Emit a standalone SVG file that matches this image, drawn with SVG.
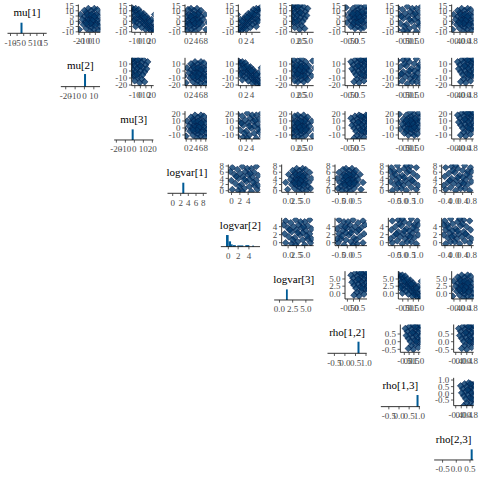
<svg xmlns="http://www.w3.org/2000/svg" xmlns:xlink="http://www.w3.org/1999/xlink" width="480" height="480" viewBox="0 0 480 480">
<style>
.ax{fill:none;stroke:#000;stroke-width:0.8}
.tk{fill:none;stroke:#333;stroke-width:0.8}
.t{font-family:"Liberation Serif","DejaVu Serif",serif;font-size:9px;fill:#4d4d4d}
.ty{text-anchor:end}
.tx{text-anchor:middle}
.tt{font-family:"Liberation Serif","DejaVu Serif",serif;font-size:11px;fill:#000;text-anchor:middle}
.pt{fill:#03396c;fill-opacity:0.8;stroke:#011f4b;stroke-width:0.6}
.bar{fill:#005b96}
</style>
<defs>
<path id="p" class="pt" d="M0,-3.3L3.3,0L0,3.3L-3.3,0Z"/>
<g id="cA">
<use href="#p" x="14" y="4"/><use href="#p" x="17" y="6"/><use href="#p" x="12" y="8"/><use href="#p" x="19" y="9"/><use href="#p" x="15" y="11"/><use href="#p" x="22" y="10"/><use href="#p" x="10" y="12"/><use href="#p" x="18" y="13"/><use href="#p" x="13" y="14"/><use href="#p" x="16" y="15"/><use href="#p" x="21" y="14"/><use href="#p" x="24" y="12"/><use href="#p" x="11" y="17"/><use href="#p" x="15" y="18"/><use href="#p" x="19" y="17"/><use href="#p" x="23" y="16"/><use href="#p" x="9" y="20"/><use href="#p" x="14" y="21"/><use href="#p" x="18" y="20"/><use href="#p" x="22" y="19"/><use href="#p" x="26" y="18"/><use href="#p" x="12" y="24"/><use href="#p" x="17" y="23"/><use href="#p" x="20" y="25"/><use href="#p" x="25" y="22"/><use href="#p" x="8" y="15"/><use href="#p" x="6" y="10"/><use href="#p" x="27" y="8"/><use href="#p" x="20" y="4"/><use href="#p" x="16" y="27"/><use href="#p" x="3" y="18"/><use href="#p" x="28" y="24"/><use href="#p" x="13" y="10"/><use href="#p" x="17" y="10"/><use href="#p" x="20" y="12"/><use href="#p" x="14" y="16"/><use href="#p" x="18" y="16"/><use href="#p" x="16" y="19"/><use href="#p" x="12" y="19"/><use href="#p" x="21" y="21"/><use href="#p" x="24" y="26"/><use href="#p" x="10" y="6"/><use href="#p" x="23" y="5"/><use href="#p" x="5" y="25"/><use href="#p" x="29" y="14"/>
</g>
<g id="cB">
<use href="#p" x="4" y="3"/><use href="#p" x="6" y="5"/><use href="#p" x="8" y="4"/><use href="#p" x="5" y="8"/><use href="#p" x="9" y="7"/><use href="#p" x="11" y="9"/><use href="#p" x="7" y="11"/><use href="#p" x="12" y="12"/><use href="#p" x="10" y="14"/><use href="#p" x="14" y="13"/><use href="#p" x="13" y="16"/><use href="#p" x="16" y="15"/><use href="#p" x="15" y="18"/><use href="#p" x="18" y="17"/><use href="#p" x="17" y="20"/><use href="#p" x="20" y="19"/><use href="#p" x="19" y="22"/><use href="#p" x="22" y="21"/><use href="#p" x="21" y="24"/><use href="#p" x="24" y="23"/><use href="#p" x="23" y="26"/><use href="#p" x="26" y="25"/><use href="#p" x="3" y="13"/><use href="#p" x="27" y="10"/><use href="#p" x="9" y="18"/><use href="#p" x="16" y="9"/><use href="#p" x="12" y="20"/><use href="#p" x="20" y="14"/><use href="#p" x="25" y="18"/><use href="#p" x="7" y="15"/><use href="#p" x="18" y="25"/><use href="#p" x="28" y="21"/><use href="#p" x="11" y="5"/><use href="#p" x="14" y="23"/><use href="#p" x="2" y="6"/><use href="#p" x="24" y="15"/><use href="#p" x="8" y="22"/><use href="#p" x="15" y="11"/><use href="#p" x="19" y="12"/><use href="#p" x="10" y="10"/><use href="#p" x="13" y="8"/><use href="#p" x="6" y="17"/><use href="#p" x="22" y="17"/><use href="#p" x="17" y="13"/><use href="#p" x="26" y="28"/>
</g>
<g id="cD">
<use href="#p" x="3" y="3"/><use href="#p" x="8" y="5"/><use href="#p" x="13" y="2"/><use href="#p" x="16" y="7"/><use href="#p" x="22" y="4"/><use href="#p" x="27" y="2"/><use href="#p" x="5" y="10"/><use href="#p" x="11" y="9"/><use href="#p" x="19" y="10"/><use href="#p" x="25" y="8"/><use href="#p" x="29" y="11"/><use href="#p" x="2" y="16"/><use href="#p" x="9" y="14"/><use href="#p" x="14" y="12"/><use href="#p" x="17" y="17"/><use href="#p" x="23" y="13"/><use href="#p" x="27" y="16"/><use href="#p" x="6" y="19"/><use href="#p" x="12" y="20"/><use href="#p" x="20" y="22"/><use href="#p" x="25" y="21"/><use href="#p" x="3" y="25"/><use href="#p" x="9" y="26"/><use href="#p" x="15" y="24"/><use href="#p" x="22" y="27"/><use href="#p" x="28" y="25"/><use href="#p" x="18" y="4"/><use href="#p" x="7" y="12"/><use href="#p" x="24" y="18"/><use href="#p" x="13" y="27"/><use href="#p" x="1" y="7"/><use href="#p" x="20" y="15"/><use href="#p" x="10" y="22"/><use href="#p" x="29" y="21"/><use href="#p" x="15" y="15"/><use href="#p" x="21" y="9"/>
</g>
<g id="cE">
<use href="#p" x="14" y="2"/><use href="#p" x="18" y="1"/><use href="#p" x="22" y="3"/><use href="#p" x="26" y="2"/><use href="#p" x="16" y="5"/><use href="#p" x="20" y="6"/><use href="#p" x="24" y="5"/><use href="#p" x="28" y="6"/><use href="#p" x="12" y="7"/><use href="#p" x="19" y="9"/><use href="#p" x="23" y="8"/><use href="#p" x="27" y="9"/><use href="#p" x="15" y="10"/><use href="#p" x="21" y="11"/><use href="#p" x="25" y="12"/><use href="#p" x="17" y="13"/><use href="#p" x="22" y="14"/><use href="#p" x="26" y="15"/><use href="#p" x="13" y="14"/><use href="#p" x="19" y="16"/><use href="#p" x="24" y="18"/><use href="#p" x="20" y="20"/><use href="#p" x="16" y="21"/><use href="#p" x="23" y="23"/><use href="#p" x="18" y="25"/><use href="#p" x="10" y="4"/><use href="#p" x="29" y="12"/><use href="#p" x="21" y="17"/><use href="#p" x="15" y="17"/><use href="#p" x="27" y="19"/><use href="#p" x="11" y="11"/><use href="#p" x="25" y="1"/><use href="#p" x="20" y="2"/><use href="#p" x="17" y="8"/><use href="#p" x="13" y="24"/>
</g>
</defs>
<rect width="480" height="480" fill="#fff"/>

<!-- diagonal panels -->
<g id="diag-mu1" transform="translate(0,0)">
<text class="tt" x="27" y="16">mu[1]</text>
<rect class="bar" x="20.5" y="22.7" width="2" height="10.6"/>
<path class="ax" d="M7.5,33.3H46.7"/>
<path class="tk" d="M10.5,33.3V36M17.1,33.3V36M23.7,33.3V36M30.3,33.3V36M36.9,33.3V36M43.5,33.3V36"/>
<text class="t tx" x="10.5" y="45.5">-10</text><text class="t tx" x="17.1" y="45.5">-5</text><text class="t tx" x="23.7" y="45.5">0</text><text class="t tx" x="30.3" y="45.5">5</text><text class="t tx" x="36.9" y="45.5">10</text><text class="t tx" x="43.5" y="45.5">15</text>
</g>
<g id="diag-mu2" transform="translate(53.33,53.33)">
<text class="tt" x="27" y="16">mu[2]</text>
<rect class="bar" x="30.7" y="20.7" width="2" height="12.6"/>
<path class="ax" d="M7.5,33.3H46.7"/>
<path class="tk" d="M12.4,33.3V36M21.8,33.3V36M31.1,33.3V36M40.5,33.3V36"/>
<text class="t tx" x="12.4" y="45.5">-20</text><text class="t tx" x="21.8" y="45.5">-10</text><text class="t tx" x="31.1" y="45.5">0</text><text class="t tx" x="40.5" y="45.5">10</text>
</g>
<g id="diag-mu3" transform="translate(106.67,106.67)">
<text class="tt" x="27" y="16">mu[3]</text>
<rect class="bar" x="25" y="22.7" width="2" height="10.6"/>
<path class="ax" d="M7.5,33.3H46.7"/>
<path class="tk" d="M9.7,33.3V36M18.7,33.3V36M27.7,33.3V36M36.7,33.3V36M45.7,33.3V36"/>
<text class="t tx" x="9.7" y="45.5">-20</text><text class="t tx" x="18.7" y="45.5">-10</text><text class="t tx" x="27.7" y="45.5">0</text><text class="t tx" x="36.7" y="45.5">10</text><text class="t tx" x="45.7" y="45.5">20</text>
</g>
<g id="diag-logvar1" transform="translate(160,160)">
<text class="tt" x="27" y="16">logvar[1]</text>
<rect class="bar" x="22.3" y="22.7" width="2" height="10.6"/>
<path class="ax" d="M7.5,33.3H46.7"/>
<path class="tk" d="M12.7,33.3V36M20.7,33.3V36M28.3,33.3V36M36,33.3V36M43.3,33.3V36"/>
<text class="t tx" x="12.7" y="45.5">0</text><text class="t tx" x="20.7" y="45.5">2</text><text class="t tx" x="28.3" y="45.5">4</text><text class="t tx" x="36" y="45.5">6</text><text class="t tx" x="43.3" y="45.5">8</text>
</g>
<g id="diag-logvar2" transform="translate(213.33,213.33)">
<text class="tt" x="27" y="16">logvar[2]</text>
<rect class="bar" x="12.7" y="21.7" width="2.6" height="11.6"/>
<rect class="bar" x="15.3" y="28" width="2.4" height="5.3"/>
<rect class="bar" x="17.7" y="31" width="1.6" height="2.3"/>
<rect class="bar" x="19.5" y="31.8" width="3" height="1.5"/>
<rect class="bar" x="24" y="32.1" width="6" height="1.2"/>
<rect class="bar" x="32" y="31.8" width="4" height="1.5"/>
<rect class="bar" x="39" y="32.2" width="1.5" height="1.1"/>
<path class="ax" d="M7.5,33.3H46.7"/>
<path class="tk" d="M15,33.3V36M24.8,33.3V36M35.6,33.3V36"/>
<text class="t tx" x="15" y="45.5">0</text><text class="t tx" x="24.8" y="45.5">2</text><text class="t tx" x="35.6" y="45.5">4</text>
</g>
<g id="diag-logvar3" transform="translate(266.67,266.67)">
<text class="tt" x="27" y="16">logvar[3]</text>
<rect class="bar" x="19.3" y="22.7" width="1.8" height="10.6"/>
<path class="ax" d="M7.5,33.3H46.7"/>
<path class="tk" d="M12.8,33.3V36M26,33.3V36M39.2,33.3V36"/>
<text class="t tx" x="12.8" y="45.5">0.0</text><text class="t tx" x="26" y="45.5">2.5</text><text class="t tx" x="39.2" y="45.5">5.0</text>
</g>
<g id="diag-rho12" transform="translate(320,320)">
<text class="tt" x="27" y="16">rho[1,2]</text>
<rect class="bar" x="37.5" y="21.7" width="2" height="11.6"/>
<path class="ax" d="M7.5,33.3H46.7"/>
<path class="tk" d="M14.4,33.3V36M24.9,33.3V36M35.5,33.3V36M46,33.3V36"/>
<text class="t tx" x="14.4" y="45.5">-0.5</text><text class="t tx" x="24.9" y="45.5">0.0</text><text class="t tx" x="35.5" y="45.5">0.5</text><text class="t tx" x="46" y="45.5">1.0</text>
</g>
<g id="diag-rho13" transform="translate(373.33,373.33)">
<text class="tt" x="27" y="16">rho[1,3]</text>
<rect class="bar" x="43.2" y="21.7" width="2" height="11.6"/>
<path class="ax" d="M7.5,33.3H46.7"/>
<path class="tk" d="M15.5,33.3V36M25.7,33.3V36M35.8,33.3V36M46,33.3V36"/>
<text class="t tx" x="15.5" y="45.5">-0.5</text><text class="t tx" x="25.7" y="45.5">0.0</text><text class="t tx" x="35.8" y="45.5">0.5</text><text class="t tx" x="46" y="45.5">1.0</text>
</g>
<g id="diag-rho23" transform="translate(426.67,426.67)">
<text class="tt" x="27" y="16">rho[2,3]</text>
<rect class="bar" x="44" y="22.7" width="2" height="10.6"/>
<path class="ax" d="M7.5,33.3H46.7"/>
<path class="tk" d="M15.9,33.3V36M29.6,33.3V36M43.3,33.3V36"/>
<text class="t tx" x="15.9" y="45.5">-0.5</text><text class="t tx" x="29.6" y="45.5">0.0</text><text class="t tx" x="43.3" y="45.5">0.5</text>
</g>

<!-- row 0: mu[1] -->
<g id="sc-r0-c1" transform="translate(53.33,0)">
<svg x="25" y="4.5" width="22" height="27.8"><use href="#cA" transform="translate(-4,0)"/></svg>
<path class="ax" d="M25,4.5V32.3H47"/>
<path class="tk" d="M22.3,5.55H25M22.3,10.8H25M22.3,16H25M22.3,21.3H25M22.3,26.5H25M22.3,31.8H25"/>
<text class="t ty" x="20.6" y="8.75">15</text><text class="t ty" x="20.6" y="14">10</text><text class="t ty" x="20.6" y="19.2">5</text><text class="t ty" x="20.6" y="24.5">0</text><text class="t ty" x="20.6" y="29.7">-5</text><text class="t ty" x="20.6" y="35">-10</text>
<path class="tk" d="M25.55,32.3V35M31.05,32.3V35M36.55,32.3V35M42.05,32.3V35"/>
<text class="t tx" x="25.55" y="44.3">-20</text><text class="t tx" x="31.05" y="44.3">-10</text><text class="t tx" x="36.55" y="44.3">0</text><text class="t tx" x="42.05" y="44.3">10</text>
</g>
<g id="sc-r0-c2" transform="translate(106.67,0)">
<svg x="25" y="4.5" width="22" height="27.8"><use href="#cB" transform="translate(-4,0)"/></svg>
<path class="ax" d="M25,4.5V32.3H47"/>
<path class="tk" d="M22.3,5.55H25M22.3,10.8H25M22.3,16H25M22.3,21.3H25M22.3,26.5H25M22.3,31.8H25"/>
<text class="t ty" x="20.6" y="8.75">15</text><text class="t ty" x="20.6" y="14">10</text><text class="t ty" x="20.6" y="19.2">5</text><text class="t ty" x="20.6" y="24.5">0</text><text class="t ty" x="20.6" y="29.7">-5</text><text class="t ty" x="20.6" y="35">-10</text>
<path class="tk" d="M28.17,32.3V35M33.69,32.3V35M39.23,32.3V35M44.78,32.3V35"/>
<text class="t tx" x="28.17" y="44.3">-10</text><text class="t tx" x="33.69" y="44.3">0</text><text class="t tx" x="39.23" y="44.3">10</text><text class="t tx" x="44.78" y="44.3">20</text>
</g>
<g id="sc-r0-c3" transform="translate(160,0)">
<svg x="25" y="4.5" width="22" height="27.8"><use href="#cA" transform="translate(26,0) scale(-1,1)"/></svg>
<path class="ax" d="M25,4.5V32.3H47"/>
<path class="tk" d="M22.3,5.55H25M22.3,10.8H25M22.3,16H25M22.3,21.3H25M22.3,26.5H25M22.3,31.8H25"/>
<text class="t ty" x="20.6" y="8.75">15</text><text class="t ty" x="20.6" y="14">10</text><text class="t ty" x="20.6" y="19.2">5</text><text class="t ty" x="20.6" y="24.5">0</text><text class="t ty" x="20.6" y="29.7">-5</text><text class="t ty" x="20.6" y="35">-10</text>
<path class="tk" d="M26.23,32.3V35M31.12,32.3V35M36,32.3V35M40.88,32.3V35M45.77,32.3V35"/>
<text class="t tx" x="26.23" y="44.3">0</text><text class="t tx" x="31.12" y="44.3">2</text><text class="t tx" x="36" y="44.3">4</text><text class="t tx" x="40.88" y="44.3">6</text><text class="t tx" x="45.77" y="44.3">8</text>
</g>
<g id="sc-r0-c4" transform="translate(213.33,0)">
<svg x="25" y="4.5" width="22" height="27.8"><use href="#cB" transform="translate(26,0) scale(-1,1)"/></svg>
<path class="ax" d="M25,4.5V32.3H47"/>
<path class="tk" d="M22.3,5.55H25M22.3,10.8H25M22.3,16H25M22.3,21.3H25M22.3,26.5H25M22.3,31.8H25"/>
<text class="t ty" x="20.6" y="8.75">15</text><text class="t ty" x="20.6" y="14">10</text><text class="t ty" x="20.6" y="19.2">5</text><text class="t ty" x="20.6" y="24.5">0</text><text class="t ty" x="20.6" y="29.7">-5</text><text class="t ty" x="20.6" y="35">-10</text>
<path class="tk" d="M27.2,32.3V35M32.92,32.3V35M38.64,32.3V35"/>
<text class="t tx" x="27.2" y="44.3">0</text><text class="t tx" x="32.92" y="44.3">2</text><text class="t tx" x="38.64" y="44.3">4</text>
</g>
<g id="sc-r0-c5" transform="translate(266.67,0)">
<svg x="25" y="4.5" width="22" height="27.8"><use href="#cE" transform="translate(26,0) scale(-1,1)"/></svg>
<path class="ax" d="M25,4.5V32.3H47"/>
<path class="tk" d="M22.3,5.55H25M22.3,10.8H25M22.3,16H25M22.3,21.3H25M22.3,26.5H25M22.3,31.8H25"/>
<text class="t ty" x="20.6" y="8.75">15</text><text class="t ty" x="20.6" y="14">10</text><text class="t ty" x="20.6" y="19.2">5</text><text class="t ty" x="20.6" y="24.5">0</text><text class="t ty" x="20.6" y="29.7">-5</text><text class="t ty" x="20.6" y="35">-10</text>
<path class="tk" d="M29.44,32.3V35M35.14,32.3V35M40.84,32.3V35"/>
<text class="t tx" x="29.44" y="44.3">0.0</text><text class="t tx" x="35.14" y="44.3">2.5</text><text class="t tx" x="40.84" y="44.3">5.0</text>
</g>
<g id="sc-r0-c6" transform="translate(320,0)">
<svg x="25" y="4.5" width="22" height="27.8"><use href="#cA" transform="translate(-4,28) scale(1,-1)"/></svg>
<path class="ax" d="M25,4.5V32.3H47"/>
<path class="tk" d="M22.3,5.55H25M22.3,10.8H25M22.3,16H25M22.3,21.3H25M22.3,26.5H25M22.3,31.8H25"/>
<text class="t ty" x="20.6" y="8.75">15</text><text class="t ty" x="20.6" y="14">10</text><text class="t ty" x="20.6" y="19.2">5</text><text class="t ty" x="20.6" y="24.5">0</text><text class="t ty" x="20.6" y="29.7">-5</text><text class="t ty" x="20.6" y="35">-10</text>
<path class="tk" d="M27.42,32.3V35M33.47,32.3V35M39.5,32.3V35"/>
<text class="t tx" x="27.42" y="44.3">-0.5</text><text class="t tx" x="33.47" y="44.3">0.0</text><text class="t tx" x="39.5" y="44.3">0.5</text>
</g>
<g id="sc-r0-c7" transform="translate(373.33,0)">
<svg x="25" y="4.5" width="22" height="27.8"><use href="#cD" transform="translate(-4,0)"/></svg>
<path class="ax" d="M25,4.5V32.3H47"/>
<path class="tk" d="M22.3,5.55H25M22.3,10.8H25M22.3,16H25M22.3,21.3H25M22.3,26.5H25M22.3,31.8H25"/>
<text class="t ty" x="20.6" y="8.75">15</text><text class="t ty" x="20.6" y="14">10</text><text class="t ty" x="20.6" y="19.2">5</text><text class="t ty" x="20.6" y="24.5">0</text><text class="t ty" x="20.6" y="29.7">-5</text><text class="t ty" x="20.6" y="35">-10</text>
<path class="tk" d="M29.4,32.3V35M34.68,32.3V35M39.96,32.3V35M45.24,32.3V35"/>
<text class="t tx" x="29.4" y="44.3">-0.5</text><text class="t tx" x="34.68" y="44.3">0.0</text><text class="t tx" x="39.96" y="44.3">0.5</text><text class="t tx" x="45.24" y="44.3">1.0</text>
</g>
<g id="sc-r0-c8" transform="translate(426.67,0)">
<svg x="25" y="4.5" width="22" height="27.8"><use href="#cA" transform="translate(-4,0)"/></svg>
<path class="ax" d="M25,4.5V32.3H47"/>
<path class="tk" d="M22.3,5.55H25M22.3,10.8H25M22.3,16H25M22.3,21.3H25M22.3,26.5H25M22.3,31.8H25"/>
<text class="t ty" x="20.6" y="8.75">15</text><text class="t ty" x="20.6" y="14">10</text><text class="t ty" x="20.6" y="19.2">5</text><text class="t ty" x="20.6" y="24.5">0</text><text class="t ty" x="20.6" y="29.7">-5</text><text class="t ty" x="20.6" y="35">-10</text>
<path class="tk" d="M27.27,32.3V35M33.34,32.3V35M39.41,32.3V35M45.48,32.3V35"/>
<text class="t tx" x="27.27" y="44.3">-0.4</text><text class="t tx" x="33.34" y="44.3">0.0</text><text class="t tx" x="39.41" y="44.3">0.4</text><text class="t tx" x="45.48" y="44.3">0.8</text>
</g>

<!-- row 1: mu[2] -->
<g id="sc-r1-c2" transform="translate(106.67,53.33)">
<svg x="25" y="4.5" width="22" height="27.8"><use href="#cE" transform="translate(26,0) scale(-1,1)"/></svg>
<path class="ax" d="M25,4.5V32.3H47"/>
<path class="tk" d="M22.3,10.7H25M22.3,17.7H25M22.3,24.7H25M22.3,31.7H25"/>
<text class="t ty" x="20.6" y="13.9">10</text><text class="t ty" x="20.6" y="20.9">0</text><text class="t ty" x="20.6" y="27.9">-10</text><text class="t ty" x="20.6" y="34.9">-20</text>
<path class="tk" d="M28.17,32.3V35M33.69,32.3V35M39.23,32.3V35M44.78,32.3V35"/>
<text class="t tx" x="28.17" y="44.3">-10</text><text class="t tx" x="33.69" y="44.3">0</text><text class="t tx" x="39.23" y="44.3">10</text><text class="t tx" x="44.78" y="44.3">20</text>
</g>
<g id="sc-r1-c3" transform="translate(160,53.33)">
<svg x="25" y="4.5" width="22" height="27.8"><use href="#cA" transform="translate(-4,0)"/></svg>
<path class="ax" d="M25,4.5V32.3H47"/>
<path class="tk" d="M22.3,10.7H25M22.3,17.7H25M22.3,24.7H25M22.3,31.7H25"/>
<text class="t ty" x="20.6" y="13.9">10</text><text class="t ty" x="20.6" y="20.9">0</text><text class="t ty" x="20.6" y="27.9">-10</text><text class="t ty" x="20.6" y="34.9">-20</text>
<path class="tk" d="M26.23,32.3V35M31.12,32.3V35M36,32.3V35M40.88,32.3V35M45.77,32.3V35"/>
<text class="t tx" x="26.23" y="44.3">0</text><text class="t tx" x="31.12" y="44.3">2</text><text class="t tx" x="36" y="44.3">4</text><text class="t tx" x="40.88" y="44.3">6</text><text class="t tx" x="45.77" y="44.3">8</text>
</g>
<g id="sc-r1-c4" transform="translate(213.33,53.33)">
<svg x="25" y="4.5" width="22" height="27.8"><use href="#cB" transform="translate(-4,0)"/></svg>
<path class="ax" d="M25,4.5V32.3H47"/>
<path class="tk" d="M22.3,10.7H25M22.3,17.7H25M22.3,24.7H25M22.3,31.7H25"/>
<text class="t ty" x="20.6" y="13.9">10</text><text class="t ty" x="20.6" y="20.9">0</text><text class="t ty" x="20.6" y="27.9">-10</text><text class="t ty" x="20.6" y="34.9">-20</text>
<path class="tk" d="M27.2,32.3V35M32.92,32.3V35M38.64,32.3V35"/>
<text class="t tx" x="27.2" y="44.3">0</text><text class="t tx" x="32.92" y="44.3">2</text><text class="t tx" x="38.64" y="44.3">4</text>
</g>
<g id="sc-r1-c5" transform="translate(266.67,53.33)">
<svg x="25" y="4.5" width="22" height="27.8"><use href="#cA" transform="translate(26,28) scale(-1,-1)"/></svg>
<path class="ax" d="M25,4.5V32.3H47"/>
<path class="tk" d="M22.3,10.7H25M22.3,17.7H25M22.3,24.7H25M22.3,31.7H25"/>
<text class="t ty" x="20.6" y="13.9">10</text><text class="t ty" x="20.6" y="20.9">0</text><text class="t ty" x="20.6" y="27.9">-10</text><text class="t ty" x="20.6" y="34.9">-20</text>
<path class="tk" d="M29.44,32.3V35M35.14,32.3V35M40.84,32.3V35"/>
<text class="t tx" x="29.44" y="44.3">0.0</text><text class="t tx" x="35.14" y="44.3">2.5</text><text class="t tx" x="40.84" y="44.3">5.0</text>
</g>
<g id="sc-r1-c6" transform="translate(320,53.33)">
<svg x="25" y="4.5" width="22" height="27.8"><use href="#cE" transform="translate(-4,0)"/></svg>
<path class="ax" d="M25,4.5V32.3H47"/>
<path class="tk" d="M22.3,10.7H25M22.3,17.7H25M22.3,24.7H25M22.3,31.7H25"/>
<text class="t ty" x="20.6" y="13.9">10</text><text class="t ty" x="20.6" y="20.9">0</text><text class="t ty" x="20.6" y="27.9">-10</text><text class="t ty" x="20.6" y="34.9">-20</text>
<path class="tk" d="M27.42,32.3V35M33.47,32.3V35M39.5,32.3V35"/>
<text class="t tx" x="27.42" y="44.3">-0.5</text><text class="t tx" x="33.47" y="44.3">0.0</text><text class="t tx" x="39.5" y="44.3">0.5</text>
</g>
<g id="sc-r1-c7" transform="translate(373.33,53.33)">
<svg x="25" y="4.5" width="22" height="27.8"><use href="#cD" transform="translate(-4,28) scale(1,-1)"/></svg>
<path class="ax" d="M25,4.5V32.3H47"/>
<path class="tk" d="M22.3,10.7H25M22.3,17.7H25M22.3,24.7H25M22.3,31.7H25"/>
<text class="t ty" x="20.6" y="13.9">10</text><text class="t ty" x="20.6" y="20.9">0</text><text class="t ty" x="20.6" y="27.9">-10</text><text class="t ty" x="20.6" y="34.9">-20</text>
<path class="tk" d="M29.4,32.3V35M34.68,32.3V35M39.96,32.3V35M45.24,32.3V35"/>
<text class="t tx" x="29.4" y="44.3">-0.5</text><text class="t tx" x="34.68" y="44.3">0.0</text><text class="t tx" x="39.96" y="44.3">0.5</text><text class="t tx" x="45.24" y="44.3">1.0</text>
</g>
<g id="sc-r1-c8" transform="translate(426.67,53.33)">
<svg x="25" y="4.5" width="22" height="27.8"><use href="#cE" transform="translate(-4,0)"/></svg>
<path class="ax" d="M25,4.5V32.3H47"/>
<path class="tk" d="M22.3,10.7H25M22.3,17.7H25M22.3,24.7H25M22.3,31.7H25"/>
<text class="t ty" x="20.6" y="13.9">10</text><text class="t ty" x="20.6" y="20.9">0</text><text class="t ty" x="20.6" y="27.9">-10</text><text class="t ty" x="20.6" y="34.9">-20</text>
<path class="tk" d="M27.27,32.3V35M33.34,32.3V35M39.41,32.3V35M45.48,32.3V35"/>
<text class="t tx" x="27.27" y="44.3">-0.4</text><text class="t tx" x="33.34" y="44.3">0.0</text><text class="t tx" x="39.41" y="44.3">0.4</text><text class="t tx" x="45.48" y="44.3">0.8</text>
</g>

<!-- row 2: mu[3] -->
<g id="sc-r2-c3" transform="translate(160,106.67)">
<svg x="25" y="4.5" width="22" height="27.8"><use href="#cA" transform="translate(-4,0)"/></svg>
<path class="ax" d="M25,4.5V32.3H47"/>
<path class="tk" d="M22.3,7.3H25M22.3,14.3H25M22.3,21.3H25M22.3,28.3H25"/>
<text class="t ty" x="20.6" y="10.5">20</text><text class="t ty" x="20.6" y="17.5">10</text><text class="t ty" x="20.6" y="24.5">0</text><text class="t ty" x="20.6" y="31.5">-10</text>
<path class="tk" d="M26.23,32.3V35M31.12,32.3V35M36,32.3V35M40.88,32.3V35M45.77,32.3V35"/>
<text class="t tx" x="26.23" y="44.3">0</text><text class="t tx" x="31.12" y="44.3">2</text><text class="t tx" x="36" y="44.3">4</text><text class="t tx" x="40.88" y="44.3">6</text><text class="t tx" x="45.77" y="44.3">8</text>
</g>
<g id="sc-r2-c4" transform="translate(213.33,106.67)">
<svg x="25" y="4.5" width="22" height="27.8"><use href="#cD" transform="translate(-4,0)"/></svg>
<path class="ax" d="M25,4.5V32.3H47"/>
<path class="tk" d="M22.3,7.3H25M22.3,14.3H25M22.3,21.3H25M22.3,28.3H25"/>
<text class="t ty" x="20.6" y="10.5">20</text><text class="t ty" x="20.6" y="17.5">10</text><text class="t ty" x="20.6" y="24.5">0</text><text class="t ty" x="20.6" y="31.5">-10</text>
<path class="tk" d="M27.2,32.3V35M32.92,32.3V35M38.64,32.3V35"/>
<text class="t tx" x="27.2" y="44.3">0</text><text class="t tx" x="32.92" y="44.3">2</text><text class="t tx" x="38.64" y="44.3">4</text>
</g>
<g id="sc-r2-c5" transform="translate(266.67,106.67)">
<svg x="25" y="4.5" width="22" height="27.8"><use href="#cA" transform="translate(26,0) scale(-1,1)"/></svg>
<path class="ax" d="M25,4.5V32.3H47"/>
<path class="tk" d="M22.3,7.3H25M22.3,14.3H25M22.3,21.3H25M22.3,28.3H25"/>
<text class="t ty" x="20.6" y="10.5">20</text><text class="t ty" x="20.6" y="17.5">10</text><text class="t ty" x="20.6" y="24.5">0</text><text class="t ty" x="20.6" y="31.5">-10</text>
<path class="tk" d="M29.44,32.3V35M35.14,32.3V35M40.84,32.3V35"/>
<text class="t tx" x="29.44" y="44.3">0.0</text><text class="t tx" x="35.14" y="44.3">2.5</text><text class="t tx" x="40.84" y="44.3">5.0</text>
</g>
<g id="sc-r2-c6" transform="translate(320,106.67)">
<svg x="25" y="4.5" width="22" height="27.8"><use href="#cE" transform="translate(-4,3)"/></svg>
<path class="ax" d="M25,4.5V32.3H47"/>
<path class="tk" d="M22.3,7.3H25M22.3,14.3H25M22.3,21.3H25M22.3,28.3H25"/>
<text class="t ty" x="20.6" y="10.5">20</text><text class="t ty" x="20.6" y="17.5">10</text><text class="t ty" x="20.6" y="24.5">0</text><text class="t ty" x="20.6" y="31.5">-10</text>
<path class="tk" d="M27.42,32.3V35M33.47,32.3V35M39.5,32.3V35"/>
<text class="t tx" x="27.42" y="44.3">-0.5</text><text class="t tx" x="33.47" y="44.3">0.0</text><text class="t tx" x="39.5" y="44.3">0.5</text>
</g>
<g id="sc-r2-c7" transform="translate(373.33,106.67)">
<svg x="25" y="4.5" width="22" height="27.8"><use href="#cA" transform="translate(-4,28) scale(1,-1)"/></svg>
<path class="ax" d="M25,4.5V32.3H47"/>
<path class="tk" d="M22.3,7.3H25M22.3,14.3H25M22.3,21.3H25M22.3,28.3H25"/>
<text class="t ty" x="20.6" y="10.5">20</text><text class="t ty" x="20.6" y="17.5">10</text><text class="t ty" x="20.6" y="24.5">0</text><text class="t ty" x="20.6" y="31.5">-10</text>
<path class="tk" d="M29.4,32.3V35M34.68,32.3V35M39.96,32.3V35M45.24,32.3V35"/>
<text class="t tx" x="29.4" y="44.3">-0.5</text><text class="t tx" x="34.68" y="44.3">0.0</text><text class="t tx" x="39.96" y="44.3">0.5</text><text class="t tx" x="45.24" y="44.3">1.0</text>
</g>
<g id="sc-r2-c8" transform="translate(426.67,106.67)">
<svg x="25" y="4.5" width="22" height="27.8"><use href="#cE" transform="translate(-4,0)"/></svg>
<path class="ax" d="M25,4.5V32.3H47"/>
<path class="tk" d="M22.3,7.3H25M22.3,14.3H25M22.3,21.3H25M22.3,28.3H25"/>
<text class="t ty" x="20.6" y="10.5">20</text><text class="t ty" x="20.6" y="17.5">10</text><text class="t ty" x="20.6" y="24.5">0</text><text class="t ty" x="20.6" y="31.5">-10</text>
<path class="tk" d="M27.27,32.3V35M33.34,32.3V35M39.41,32.3V35M45.48,32.3V35"/>
<text class="t tx" x="27.27" y="44.3">-0.4</text><text class="t tx" x="33.34" y="44.3">0.0</text><text class="t tx" x="39.41" y="44.3">0.4</text><text class="t tx" x="45.48" y="44.3">0.8</text>
</g>

<!-- row 3: logvar[1] -->
<g id="sc-r3-c4" transform="translate(213.33,160)">
<svg x="15" y="4.5" width="32" height="27.8"><use href="#cD" transform="translate(1,0)"/></svg>
<path class="ax" d="M15,4.5V32.3H47"/>
<path class="tk" d="M12.3,6H15M12.3,12.2H15M12.3,18.4H15M12.3,24.5H15M12.3,30.7H15"/>
<text class="t ty" x="10.6" y="9.2">8</text><text class="t ty" x="10.6" y="15.4">6</text><text class="t ty" x="10.6" y="21.6">4</text><text class="t ty" x="10.6" y="27.7">2</text><text class="t ty" x="10.6" y="33.9">0</text>
<path class="tk" d="M18.2,32.3V35M26.52,32.3V35M34.84,32.3V35"/>
<text class="t tx" x="18.2" y="44.3">0</text><text class="t tx" x="26.52" y="44.3">2</text><text class="t tx" x="34.84" y="44.3">4</text>
</g>
<g id="sc-r3-c5" transform="translate(266.67,160)">
<svg x="15" y="4.5" width="32" height="27.8"><use href="#cA" transform="translate(1,0)"/></svg>
<path class="ax" d="M15,4.5V32.3H47"/>
<path class="tk" d="M12.3,6H15M12.3,12.2H15M12.3,18.4H15M12.3,24.5H15M12.3,30.7H15"/>
<text class="t ty" x="10.6" y="9.2">8</text><text class="t ty" x="10.6" y="15.4">6</text><text class="t ty" x="10.6" y="21.6">4</text><text class="t ty" x="10.6" y="27.7">2</text><text class="t ty" x="10.6" y="33.9">0</text>
<path class="tk" d="M21.46,32.3V35M29.75,32.3V35M38.04,32.3V35"/>
<text class="t tx" x="21.46" y="44.3">0.0</text><text class="t tx" x="29.75" y="44.3">2.5</text><text class="t tx" x="38.04" y="44.3">5.0</text>
</g>
<g id="sc-r3-c6" transform="translate(320,160)">
<svg x="15" y="4.5" width="32" height="27.8"><use href="#cA" transform="translate(31,0) scale(-1,1)"/></svg>
<path class="ax" d="M15,4.5V32.3H47"/>
<path class="tk" d="M12.3,6H15M12.3,12.2H15M12.3,18.4H15M12.3,24.5H15M12.3,30.7H15"/>
<text class="t ty" x="10.6" y="9.2">8</text><text class="t ty" x="10.6" y="15.4">6</text><text class="t ty" x="10.6" y="21.6">4</text><text class="t ty" x="10.6" y="27.7">2</text><text class="t ty" x="10.6" y="33.9">0</text>
<path class="tk" d="M18.52,32.3V35M27.32,32.3V35M36.09,32.3V35"/>
<text class="t tx" x="18.52" y="44.3">-0.5</text><text class="t tx" x="27.32" y="44.3">0.0</text><text class="t tx" x="36.09" y="44.3">0.5</text>
</g>
<g id="sc-r3-c7" transform="translate(373.33,160)">
<svg x="15" y="4.5" width="32" height="27.8"><use href="#cD" transform="translate(31,28) scale(-1,-1)"/></svg>
<path class="ax" d="M15,4.5V32.3H47"/>
<path class="tk" d="M12.3,6H15M12.3,12.2H15M12.3,18.4H15M12.3,24.5H15M12.3,30.7H15"/>
<text class="t ty" x="10.6" y="9.2">8</text><text class="t ty" x="10.6" y="15.4">6</text><text class="t ty" x="10.6" y="21.6">4</text><text class="t ty" x="10.6" y="27.7">2</text><text class="t ty" x="10.6" y="33.9">0</text>
<path class="tk" d="M21.4,32.3V35M29.08,32.3V35M36.76,32.3V35M44.44,32.3V35"/>
<text class="t tx" x="21.4" y="44.3">-0.5</text><text class="t tx" x="29.08" y="44.3">0.0</text><text class="t tx" x="36.76" y="44.3">0.5</text><text class="t tx" x="44.44" y="44.3">1.0</text>
</g>
<g id="sc-r3-c8" transform="translate(426.67,160)">
<svg x="15" y="4.5" width="32" height="27.8"><use href="#cD" transform="translate(1,28) scale(1,-1)"/></svg>
<path class="ax" d="M15,4.5V32.3H47"/>
<path class="tk" d="M12.3,6H15M12.3,12.2H15M12.3,18.4H15M12.3,24.5H15M12.3,30.7H15"/>
<text class="t ty" x="10.6" y="9.2">8</text><text class="t ty" x="10.6" y="15.4">6</text><text class="t ty" x="10.6" y="21.6">4</text><text class="t ty" x="10.6" y="27.7">2</text><text class="t ty" x="10.6" y="33.9">0</text>
<path class="tk" d="M18.3,32.3V35M27.13,32.3V35M35.96,32.3V35M44.79,32.3V35"/>
<text class="t tx" x="18.3" y="44.3">-0.4</text><text class="t tx" x="27.13" y="44.3">0.0</text><text class="t tx" x="35.96" y="44.3">0.4</text><text class="t tx" x="44.79" y="44.3">0.8</text>
</g>

<!-- row 4: logvar[2] -->
<g id="sc-r4-c5" transform="translate(266.67,213.33)">
<svg x="15" y="4.5" width="32" height="27.8"><use href="#cD" transform="translate(1,0)"/></svg>
<path class="ax" d="M15,4.5V32.3H47"/>
<path class="tk" d="M12.3,13.3H15M12.3,21.3H15M12.3,29.3H15"/>
<text class="t ty" x="10.6" y="16.5">4</text><text class="t ty" x="10.6" y="24.5">2</text><text class="t ty" x="10.6" y="32.5">0</text>
<path class="tk" d="M21.46,32.3V35M29.75,32.3V35M38.04,32.3V35"/>
<text class="t tx" x="21.46" y="44.3">0.0</text><text class="t tx" x="29.75" y="44.3">2.5</text><text class="t tx" x="38.04" y="44.3">5.0</text>
</g>
<g id="sc-r4-c6" transform="translate(320,213.33)">
<svg x="15" y="4.5" width="32" height="27.8"><use href="#cD" transform="translate(31,0) scale(-1,1)"/></svg>
<path class="ax" d="M15,4.5V32.3H47"/>
<path class="tk" d="M12.3,13.3H15M12.3,21.3H15M12.3,29.3H15"/>
<text class="t ty" x="10.6" y="16.5">4</text><text class="t ty" x="10.6" y="24.5">2</text><text class="t ty" x="10.6" y="32.5">0</text>
<path class="tk" d="M18.52,32.3V35M27.32,32.3V35M36.09,32.3V35"/>
<text class="t tx" x="18.52" y="44.3">-0.5</text><text class="t tx" x="27.32" y="44.3">0.0</text><text class="t tx" x="36.09" y="44.3">0.5</text>
</g>
<g id="sc-r4-c7" transform="translate(373.33,213.33)">
<svg x="15" y="4.5" width="32" height="27.8"><use href="#cD" transform="translate(1,28) scale(1,-1)"/></svg>
<path class="ax" d="M15,4.5V32.3H47"/>
<path class="tk" d="M12.3,13.3H15M12.3,21.3H15M12.3,29.3H15"/>
<text class="t ty" x="10.6" y="16.5">4</text><text class="t ty" x="10.6" y="24.5">2</text><text class="t ty" x="10.6" y="32.5">0</text>
<path class="tk" d="M21.4,32.3V35M29.08,32.3V35M36.76,32.3V35M44.44,32.3V35"/>
<text class="t tx" x="21.4" y="44.3">-0.5</text><text class="t tx" x="29.08" y="44.3">0.0</text><text class="t tx" x="36.76" y="44.3">0.5</text><text class="t tx" x="44.44" y="44.3">1.0</text>
</g>
<g id="sc-r4-c8" transform="translate(426.67,213.33)">
<svg x="15" y="4.5" width="32" height="27.8"><use href="#cD" transform="translate(31,28) scale(-1,-1)"/></svg>
<path class="ax" d="M15,4.5V32.3H47"/>
<path class="tk" d="M12.3,13.3H15M12.3,21.3H15M12.3,29.3H15"/>
<text class="t ty" x="10.6" y="16.5">4</text><text class="t ty" x="10.6" y="24.5">2</text><text class="t ty" x="10.6" y="32.5">0</text>
<path class="tk" d="M18.3,32.3V35M27.13,32.3V35M35.96,32.3V35M44.79,32.3V35"/>
<text class="t tx" x="18.3" y="44.3">-0.4</text><text class="t tx" x="27.13" y="44.3">0.0</text><text class="t tx" x="35.96" y="44.3">0.4</text><text class="t tx" x="44.79" y="44.3">0.8</text>
</g>

<!-- row 5: logvar[3] -->
<g id="sc-r5-c6" transform="translate(320,266.67)">
<svg x="25" y="4.5" width="22" height="27.8"><use href="#cE" transform="translate(-4,0)"/></svg>
<path class="ax" d="M25,4.5V32.3H47"/>
<path class="tk" d="M22.3,12.3H25M22.3,19.5H25M22.3,26.7H25"/>
<text class="t ty" x="20.6" y="15.5">5.0</text><text class="t ty" x="20.6" y="22.7">2.5</text><text class="t ty" x="20.6" y="29.9">0.0</text>
<path class="tk" d="M27.42,32.3V35M33.47,32.3V35M39.5,32.3V35"/>
<text class="t tx" x="27.42" y="44.3">-0.5</text><text class="t tx" x="33.47" y="44.3">0.0</text><text class="t tx" x="39.5" y="44.3">0.5</text>
</g>
<g id="sc-r5-c7" transform="translate(373.33,266.67)">
<svg x="25" y="4.5" width="22" height="27.8"><use href="#cB" transform="translate(-4,0)"/></svg>
<path class="ax" d="M25,4.5V32.3H47"/>
<path class="tk" d="M22.3,12.3H25M22.3,19.5H25M22.3,26.7H25"/>
<text class="t ty" x="20.6" y="15.5">5.0</text><text class="t ty" x="20.6" y="22.7">2.5</text><text class="t ty" x="20.6" y="29.9">0.0</text>
<path class="tk" d="M29.4,32.3V35M34.68,32.3V35M39.96,32.3V35M45.24,32.3V35"/>
<text class="t tx" x="29.4" y="44.3">-0.5</text><text class="t tx" x="34.68" y="44.3">0.0</text><text class="t tx" x="39.96" y="44.3">0.5</text><text class="t tx" x="45.24" y="44.3">1.0</text>
</g>
<g id="sc-r5-c8" transform="translate(426.67,266.67)">
<svg x="25" y="4.5" width="22" height="27.8"><use href="#cA" transform="translate(-4,0)"/></svg>
<path class="ax" d="M25,4.5V32.3H47"/>
<path class="tk" d="M22.3,12.3H25M22.3,19.5H25M22.3,26.7H25"/>
<text class="t ty" x="20.6" y="15.5">5.0</text><text class="t ty" x="20.6" y="22.7">2.5</text><text class="t ty" x="20.6" y="29.9">0.0</text>
<path class="tk" d="M27.27,32.3V35M33.34,32.3V35M39.41,32.3V35M45.48,32.3V35"/>
<text class="t tx" x="27.27" y="44.3">-0.4</text><text class="t tx" x="33.34" y="44.3">0.0</text><text class="t tx" x="39.41" y="44.3">0.4</text><text class="t tx" x="45.48" y="44.3">0.8</text>
</g>

<!-- row 6: rho[1,2] -->
<g id="sc-r6-c7" transform="translate(373.33,320)">
<svg x="27" y="4.5" width="20" height="27.8"><use href="#cE" transform="translate(-5,0)"/></svg>
<path class="ax" d="M27,4.5V32.3H47"/>
<path class="tk" d="M24.3,14H27M24.3,21.7H27M24.3,29.3H27"/>
<text class="t ty" x="22.6" y="17.2">0.5</text><text class="t ty" x="22.6" y="24.9">0.0</text><text class="t ty" x="22.6" y="32.5">-0.5</text>
<path class="tk" d="M31,32.3V35M35.8,32.3V35M40.6,32.3V35M45.4,32.3V35"/>
<text class="t tx" x="31" y="44.3">-0.5</text><text class="t tx" x="35.8" y="44.3">0.0</text><text class="t tx" x="40.6" y="44.3">0.5</text><text class="t tx" x="45.4" y="44.3">1.0</text>
</g>
<g id="sc-r6-c8" transform="translate(426.67,320)">
<svg x="27" y="4.5" width="20" height="27.8"><use href="#cE" transform="translate(-5,0)"/></svg>
<path class="ax" d="M27,4.5V32.3H47"/>
<path class="tk" d="M24.3,14H27M24.3,21.7H27M24.3,29.3H27"/>
<text class="t ty" x="22.6" y="17.2">0.5</text><text class="t ty" x="22.6" y="24.9">0.0</text><text class="t ty" x="22.6" y="32.5">-0.5</text>
<path class="tk" d="M29.06,32.3V35M34.58,32.3V35M40.1,32.3V35M45.62,32.3V35"/>
<text class="t tx" x="29.06" y="44.3">-0.4</text><text class="t tx" x="34.58" y="44.3">0.0</text><text class="t tx" x="40.1" y="44.3">0.4</text><text class="t tx" x="45.62" y="44.3">0.8</text>
</g>

<!-- row 7: rho[1,3] -->
<g id="sc-r7-c8" transform="translate(426.67,373.33)">
<svg x="27" y="4.5" width="20" height="27.8"><use href="#cE" transform="translate(-3,4)"/></svg>
<path class="ax" d="M27,4.5V32.3H47"/>
<path class="tk" d="M24.3,6.7H27M24.3,13.3H27M24.3,20H27M24.3,26.7H27"/>
<text class="t ty" x="22.6" y="9.9">1.0</text><text class="t ty" x="22.6" y="16.5">0.5</text><text class="t ty" x="22.6" y="23.2">0.0</text><text class="t ty" x="22.6" y="29.9">-0.5</text>
<path class="tk" d="M29.06,32.3V35M34.58,32.3V35M40.1,32.3V35M45.62,32.3V35"/>
<text class="t tx" x="29.06" y="44.3">-0.4</text><text class="t tx" x="34.58" y="44.3">0.0</text><text class="t tx" x="40.1" y="44.3">0.4</text><text class="t tx" x="45.62" y="44.3">0.8</text>
</g>
</svg>
